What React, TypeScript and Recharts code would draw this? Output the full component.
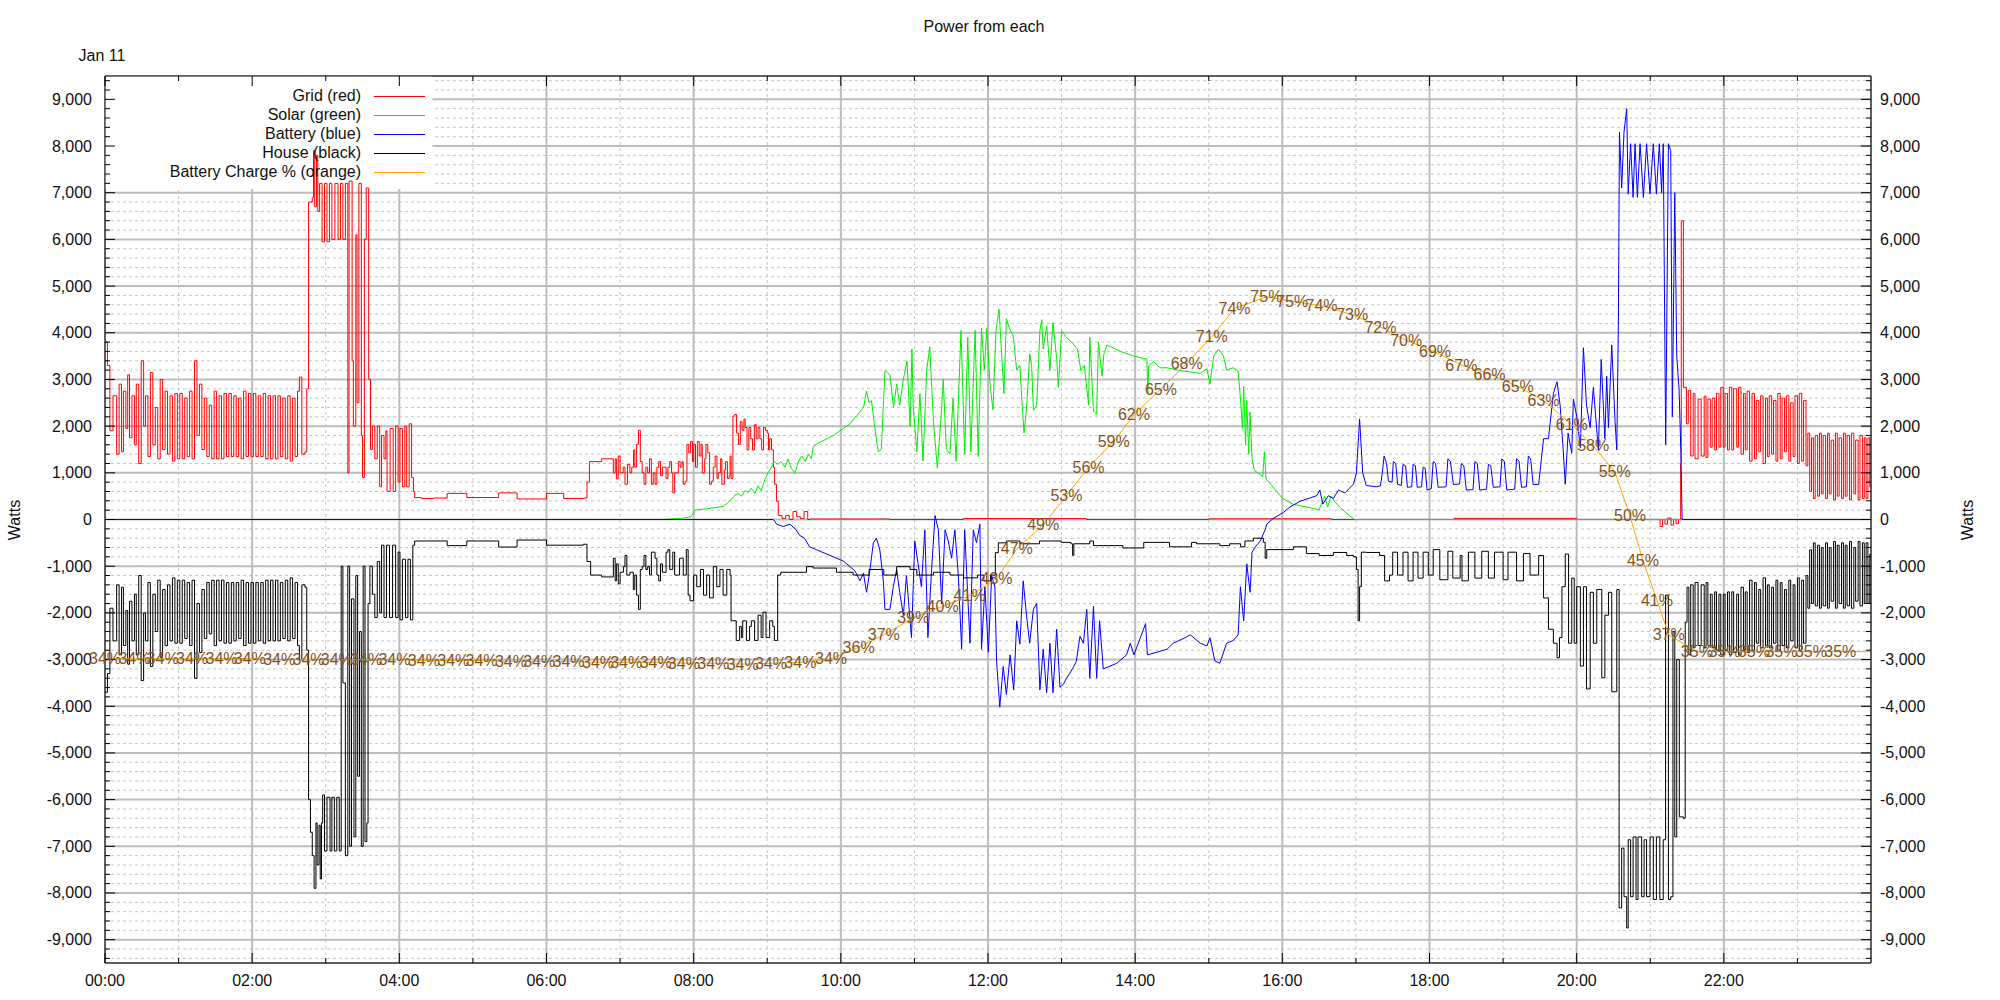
import React from "react";
import { LineChart, Line, XAxis, YAxis, CartesianGrid, ReferenceArea, LabelList } from "recharts";

const FONT = '"Liberation Sans", Arial, Helvetica, sans-serif';
const PCT_BROWN = "#835222";

type Pt = [number, number];

// all series: [minutes after midnight, watts]
const gridPoints: Pt[] = [
  [0, 3800], [2, 3300], [4, 1900], [6.5, 2650], [9.5, 1400], [11.5, 2900], [13.5, 1450], [15, 2750], [17, 1950], [18.5, 3100],
  [20, 1750], [22, 2650], [24, 1600], [25.5, 2900], [27.5, 1200], [29.5, 3400], [31.5, 2000], [33, 2650], [35, 1350], [37, 3150],
  [39, 1600], [41, 2400], [43, 1300], [45, 3000], [47, 1500], [49, 2750], [51, 1400], [53, 2650], [55, 1250], [57, 2700],
  [59, 1300], [61, 2700], [63, 1300], [65, 2600], [67, 1350], [69, 2750], [71, 1300], [73, 3400], [75, 1800], [77, 2900],
  [79, 1500], [81, 2600], [83, 1350], [85, 2450], [87, 1300], [89, 2750], [91, 1300], [93, 2650], [95, 1300], [97, 2700],
  [99, 1350], [101, 2700], [103, 1350], [105, 2650], [107, 1350], [109, 2600], [111, 1300], [113, 2750], [115, 1350], [117, 2700],
  [119, 1350], [121, 2700], [123, 1350], [125, 2650], [127, 1350], [129, 2700], [131, 1300], [133, 2650], [135, 1300], [137, 2650],
  [139, 1300], [141, 2650], [143, 1350], [145, 2600], [147, 1300], [149, 2650], [151, 1250], [153, 2600], [155, 1350], [157, 2750],
  [158.5, 3050], [160.5, 1400], [163, 1450], [164.5, 2800], [166, 6800], [169, 6900], [170, 7900], [171, 6700], [172.5, 7800], [173.5, 6600],
  [175, 7200], [177, 5950], [179, 7200], [181, 5950], [183, 7200], [185, 6000], [187.5, 7200], [190, 6000], [192, 7200], [194, 6000],
  [196, 7200], [198, 1000], [199, 7250], [201.5, 3400], [202.5, 2000], [204.5, 6100], [205.5, 2500], [207, 7200], [209, 1800], [210, 900],
  [211.5, 6000], [213, 7100], [215, 3000], [216.5, 1500], [218, 2000], [220, 1300], [222, 2000], [224, 700], [225.5, 1800], [227.5, 1300],
  [229, 1900], [230, 600], [232.5, 1950], [235, 600], [237, 2000], [239, 800], [240.5, 1950], [242.5, 700], [244.5, 2000], [246, 700],
  [248, 2050], [250, 900], [251.5, 600], [252.5, 470], [258, 450], [268, 460], [279, 560], [295, 470], [321, 570], [336, 440],
  [360, 560], [374, 450], [391, 460], [393, 800], [395, 1240], [405, 1300], [414.5, 1000], [416, 1300], [417, 870], [418.5, 1360],
  [420, 1000], [422.5, 1120], [424, 755], [426, 1180], [428, 1000], [429.5, 1120], [431, 1490], [432, 1120], [433.5, 1610], [435, 1910],
  [436.5, 1240], [438, 1000], [439.5, 755], [441, 1120], [442.5, 1000], [444, 1300], [445.5, 755], [447, 1000], [448.5, 755], [450, 1120],
  [451.5, 1240], [453, 940], [454.5, 1120], [457.5, 880], [459, 1120], [460.5, 1240], [462, 1000], [463, 570], [464.5, 1000], [467.5, 1240],
  [469, 1120], [470.5, 1240], [471.5, 755], [473, 820], [474.5, 1610], [476, 1430], [477.5, 1670], [479, 1240], [480, 1610], [481.5, 1120],
  [483, 1670], [484.5, 1360], [486, 1610], [487, 1000], [489, 1300], [490, 1610], [491.5, 1430], [493, 755], [494.5, 820], [496, 1120],
  [497.5, 1360], [499, 880], [500, 1000], [502, 1300], [503, 755], [505, 1060], [506, 1240], [507.5, 880], [509, 940], [509.7, 1360],
  [510.5, 880], [512, 2215], [513.5, 2250], [515, 1850], [516.5, 1610], [518, 2095], [519.5, 1910], [521, 2150], [522, 1970], [523.5, 1490],
  [525, 1970], [526.5, 1730], [528, 1490], [529.5, 2030], [531, 1730], [532.5, 1970], [534, 1730], [535.5, 1490], [537, 1970], [538.5, 1910],
  [540, 1850], [541, 1490], [542, 1730], [543.5, 1490], [545, 1120], [546, 755], [547.5, 390], [549, 85], [552, 25], [555, 85],
  [558, 0], [561, 170], [564, 60], [567, 20], [570, 170], [573, 0], [575, 10], [640, 0], [700, 20], [800, 0],
  [900, 15], [1000, 0], [1100, 25], [1200, 0], [1266, 0], [1268, -150], [1270, 0], [1272, -100], [1274, 30], [1277, -120],
  [1279, 0], [1281, -90], [1283, 0], [1284.8, 1200], [1285.3, 6400], [1287, 2830], [1289.5, 2050], [1291, 2760], [1293, 1360], [1295, 2700],
  [1296.5, 1300], [1299, 2580], [1301.5, 1360], [1304, 2640], [1305.5, 1330], [1307, 2580], [1309, 1550], [1310.5, 2600], [1312.5, 1490], [1314, 2700],
  [1316, 1550], [1317.5, 2830], [1319.5, 1550], [1321, 2700], [1323, 1490], [1324.5, 2830], [1326.5, 1490], [1328, 2800], [1330.5, 1550], [1332, 2830],
  [1334, 1400], [1336, 2700], [1337.5, 1490], [1339, 2750], [1341, 1250], [1343, 2700], [1345, 1300], [1346.5, 2550], [1348.5, 1450], [1350, 2650],
  [1352, 1200], [1354, 2600], [1355.5, 1350], [1357, 2650], [1359, 1400], [1360.5, 2550], [1362.5, 1250], [1364, 2700], [1366, 1300], [1367.5, 2600],
  [1369.5, 1450], [1371, 2650], [1373, 1250], [1374.5, 2500], [1376.5, 1350], [1378, 2650], [1380, 1200], [1381.5, 2700], [1383.5, 1250], [1385, 2550],
  [1387, 1150], [1388.5, 1850], [1390, 600], [1391.5, 1750], [1393, 450], [1394.5, 1800], [1396.5, 500], [1398, 1850], [1399.5, 550], [1401, 1800],
  [1403, 450], [1404.5, 1850], [1406, 550], [1407.5, 1700], [1409.5, 420], [1411, 1850], [1412.5, 500], [1414, 1750], [1416, 450], [1417.5, 1850],
  [1419, 500], [1420.5, 1800], [1422.5, 420], [1424, 1850], [1426, 550], [1427.5, 1700], [1429.5, 420], [1431, 1800], [1433, 450], [1434.5, 1750],
  [1436, 450], [1437.5, 1750], [1439, 700], [1440, 700],
];

const solarPoints: Pt[] = [
  [0, 0], [455, 0], [460.7, 10], [471.6, 30], [478, 60], [481, 200], [490.6, 230], [504, 280], [509.7, 400], [513.7, 520],
  [516.5, 560], [519, 500], [522, 620], [524.5, 580], [527, 670], [530, 560], [532.5, 720], [535, 620], [538, 850], [540.5, 1000],
  [543, 1100], [545.7, 1240], [548.5, 1180], [551, 1240], [554.5, 1120], [557, 1300], [559.5, 1100], [562.5, 1000], [565.6, 1250], [568, 1360],
  [571, 1240], [573.5, 1400], [576, 1300], [577.5, 1560], [580.5, 1620], [594, 1800], [607.5, 2050], [618.5, 2400], [621, 2750], [623, 2500],
  [625, 2550], [627.8, 1950], [630.5, 1450], [633, 1500], [636, 3190], [640, 3100], [643, 2400], [645.5, 2900], [648, 2450], [651, 3000],
  [654, 3400], [656.5, 2000], [658, 3650], [659, 2400], [662, 1450], [664.5, 2700], [667, 1250], [670, 3200], [672.5, 3700], [675.5, 2100],
  [678.7, 1100], [682, 2300], [683.5, 3000], [686, 1500], [689, 1400], [691.5, 2600], [694, 1250], [698, 4050], [701, 1400], [703.5, 3900],
  [706, 1450], [709.5, 4050], [712, 1350], [714.7, 4100], [717, 3200], [719, 4100], [721.5, 2950], [724, 2350], [726.5, 4050], [729, 4500],
  [733, 2700], [735, 4300], [737.5, 4100], [740.6, 3920], [743.4, 3200], [746, 3300], [747.5, 2600], [749.4, 1850], [751.6, 2450], [754, 3550],
  [755.6, 3300], [757, 2340], [759.7, 2450], [762.3, 4040], [763.8, 4280], [765, 3650], [767.8, 4140], [770.5, 3190], [773, 4220], [776, 3440],
  [777.4, 2830], [780, 4040], [784, 3900], [788, 3800], [793, 3650], [795.7, 3190], [798.5, 3300], [802, 2450], [803, 3900], [806, 2320],
  [808.6, 2250], [810, 3800], [813, 3070], [814.5, 3550], [817, 3740], [828, 3600], [839, 3500], [847, 3450], [849.5, 3440], [850.3, 2700],
  [851, 3300], [855, 3380], [860.5, 3250], [866, 3250], [876.7, 3190], [893, 3130], [898.5, 3230], [901, 2900], [904, 3500], [908, 3650],
  [912, 3500], [914.6, 3200], [920, 3250], [923.9, 3180], [925.8, 2600], [927.5, 1950], [928.5, 2850], [930, 1600], [931, 2550], [932.6, 1400],
  [933.7, 2300], [935.3, 1300], [937.2, 1050], [940, 1000], [944, 920], [945.4, 1450], [946.7, 870], [960.3, 450], [968.5, 330], [979.3, 270],
  [990, 210], [994.4, 500], [997, 270], [999.7, 500], [1002.5, 390], [1006.6, 270], [1014.7, 85], [1018.8, 0], [1440, 0],
];

const batteryPoints: Pt[] = [
  [0, 0], [545, 0], [547.7, -100], [553, -150], [558.5, -100], [563.5, -220], [566.4, -340], [570.4, -400], [574.5, -585], [580, -645],
  [586.7, -720], [594, -800], [602, -890], [607.5, -1010], [611.5, -1100], [615.6, -1315], [618.4, -1150], [621, -1560], [623.8, -1070], [626.5, -500],
  [629, -400], [631.8, -650], [634.6, -1300], [636, -1925], [640, -1925], [642.8, -1440], [645.5, -1070], [648, -1560], [651, -2050], [653.5, -1200],
  [657.6, -2530], [660.3, -460], [663, -950], [665.7, -1440], [668.5, -220], [671, -2530], [674, -1070], [676.8, 85], [679.5, -220], [682.2, -1800],
  [685, -220], [687.6, -460], [690.3, -830], [693, -220], [695.8, -1200], [698.5, -2780], [701, -220], [705.3, -2650], [708, -220], [710.6, -500],
  [713.4, -100], [714.7, -2780], [717.5, -1440], [720.3, -2840], [723, -1200], [725.6, -1440], [727, -3030], [729.6, -4020], [732.4, -3150], [735, -3750],
  [738, -2900], [741, -3650], [743.4, -2170], [746, -2670], [748.7, -1315], [751.4, -2050], [754, -2650], [757, -1925], [759.7, -1800], [762.3, -3650],
  [765, -2780], [767.8, -3710], [770.5, -2650], [773, -3710], [776, -2350], [778.7, -3590], [781.5, -3530], [784, -3400], [786.8, -3290], [789.5, -3170],
  [792, -3040], [795, -2500], [797.8, -2650], [800.5, -1925], [803, -3400], [806, -1860], [808.6, -3400], [811, -2170], [814, -3200], [825, -3080],
  [833, -2900], [836, -2650], [839, -2900], [848.5, -2230], [850, -2900], [866, -2780], [871, -2650], [881, -2530], [885, -2470], [893, -2650],
  [898.5, -2710], [901, -2530], [905, -3030], [909, -3080], [914.6, -2650], [920, -2590], [924, -2470], [925.8, -1440], [928.5, -2170], [931, -950],
  [933.7, -1560], [935.3, -700], [938, -585], [942, -460], [946, -220], [947.3, -100], [952.7, 25], [960.8, 150], [966.3, 270], [974.4, 390],
  [988, 510], [990.6, 630], [993, 330], [997.5, 510], [1001.6, 450], [1005.7, 630], [1011, 570], [1018, 755], [1020.4, 1000], [1023, 2155],
  [1025.5, 1000], [1028.4, 730], [1036.5, 700], [1040, 720], [1041.5, 1000], [1043, 1360], [1045, 1200], [1046.5, 820], [1049.5, 800], [1050.5, 1240],
  [1052.5, 1200], [1054, 755], [1057, 730], [1058.4, 1180], [1060.5, 1150], [1062, 690], [1065.5, 700], [1066.6, 1180], [1068.5, 1150], [1070, 690],
  [1073.5, 700], [1074.8, 1120], [1076.5, 1100], [1078, 630], [1081.5, 660], [1083, 1240], [1085, 1200], [1087, 690], [1093.5, 700], [1095, 1300],
  [1097, 1250], [1099.5, 750], [1104.5, 760], [1106, 1200], [1108, 1150], [1110, 630], [1115.5, 640], [1117, 1240], [1119, 1200], [1121, 630],
  [1126.5, 650], [1128, 1180], [1130, 1150], [1132, 690], [1137.5, 700], [1139, 1300], [1141, 1250], [1143, 630], [1149.5, 650], [1151, 1300],
  [1153, 1250], [1155, 690], [1159, 700], [1160.6, 1360], [1162.5, 1300], [1164.5, 750], [1169, 750], [1173, 1730], [1177, 1730], [1181, 2700],
  [1184, 2950], [1186.5, 2450], [1189, 1490], [1190.7, 755], [1193, 1850], [1196, 1420], [1197.3, 2580], [1200, 2215], [1203, 1540], [1205.5, 3680],
  [1208, 2450], [1211, 1970], [1213.6, 2830], [1217.7, 1490], [1220, 3430], [1223, 1730], [1224.5, 3070], [1225.9, 1970], [1228.6, 3740], [1231.3, 2100],
  [1232.7, 1490], [1234, 4170], [1234.9, 8300], [1236.7, 7100], [1238.6, 8300], [1240.8, 8800], [1242, 6970], [1244, 8050], [1246, 6900], [1247.6, 8050],
  [1249.5, 6900], [1251.7, 8050], [1254.4, 6900], [1257, 8050], [1259.8, 6970], [1262.5, 8050], [1265, 6970], [1267.4, 8050], [1269.3, 7000], [1270.6, 8050],
  [1272.6, 1600], [1274.8, 8050], [1276.7, 7900], [1278, 2200], [1280, 7000], [1281.6, 3500], [1283.5, 2800], [1285, 1420], [1286, 0], [1440, 0],
];

const housePoints: Pt[] = [
  [0, -3700], [2, -3300], [4, -1900], [6.5, -2600], [9.5, -1400], [11.5, -2900], [13.5, -1450], [15, -2700], [17, -1950], [18.5, -3100],
  [20, -1750], [22, -2600], [24, -1600], [25.5, -2900], [27.5, -1200], [29.5, -3450], [31.5, -2000], [33, -2600], [35, -1350], [37, -3150],
  [39, -1600], [41, -2400], [43, -1300], [45, -2950], [47, -1500], [49, -2700], [51, -1400], [53, -2600], [55, -1250], [57, -2650],
  [59, -1300], [61, -2650], [63, -1300], [65, -2550], [67, -1350], [69, -2700], [71, -1300], [73, -3400], [75, -1800], [77, -2850],
  [79, -1500], [81, -2550], [83, -1350], [85, -2450], [87, -1300], [89, -2700], [91, -1300], [93, -2600], [95, -1300], [97, -2650],
  [99, -1350], [101, -2650], [103, -1350], [105, -2600], [107, -1350], [109, -2550], [111, -1300], [113, -2700], [115, -1350], [117, -2650],
  [119, -1350], [121, -2650], [123, -1350], [125, -2600], [127, -1350], [129, -2650], [131, -1300], [133, -2600], [135, -1300], [137, -2600],
  [139, -1300], [141, -2600], [143, -1350], [145, -2550], [147, -1300], [149, -2600], [151, -1250], [153, -2550], [155, -1350], [157, -2700],
  [158.5, -3000], [160.5, -1400], [163, -1450], [164.5, -2800], [166, -6000], [167.5, -6700], [169, -7200], [170.5, -7900], [172, -6500], [173, -7400],
  [174.5, -6550], [175.5, -7700], [176.5, -6500], [177.5, -5900], [179, -7100], [181, -5950], [183.5, -7100], [185, -5950], [187, -7100], [189, -5950],
  [191, -7100], [192.6, -1000], [194, -3500], [196, -7200], [198, -1000], [199.5, -7000], [201, -1700], [203, -6800], [204.5, -1200], [206, -5500],
  [207.5, -2400], [209, -7000], [210.5, -1000], [212, -6900], [213.5, -6500], [214.5, -1800], [216, -1000], [218, -1600], [220, -2100], [222, -900],
  [224, -2000], [225.5, -550], [227.5, -2100], [229.5, -550], [232, -2100], [234.5, -550], [237, -2100], [239, -700], [240.5, -2150], [242.5, -850],
  [245, -2100], [247, -850], [249, -2150], [251, -550], [252.5, -460], [279, -560], [295, -460], [321, -590], [336, -440], [360, -550],
  [390, -530], [393, -900], [396, -1190], [405, -1230], [414.5, -830], [416, -1315], [417, -950], [418.5, -1380], [420, -1130], [422.7, -1010],
  [424, -770], [425.5, -1190], [428, -1130], [430.8, -1500], [432, -1190], [433.5, -1620], [435, -1925], [436.5, -1070], [438, -1010], [439.5, -770],
  [441, -1070], [442.5, -1010], [444, -1190], [445.5, -700], [448.5, -830], [450, -1190], [451.5, -1315], [453, -950], [454.5, -1130], [457.5, -700],
  [459, -645], [460.5, -1070], [463, -700], [464.5, -1190], [468.5, -830], [471.5, -1190], [474, -645], [475.5, -1620], [477, -1740], [480, -1190],
  [482.5, -1440], [485.5, -1070], [488, -1620], [490.6, -1190], [493, -1680], [496, -1010], [498.8, -1440], [501.4, -1070], [504, -1620], [507, -1070],
  [509.7, -1190], [510.5, -2170], [514.7, -2590], [517.5, -2290], [518.9, -2530], [520, -2170], [523, -2590], [525.6, -2290], [527, -2170], [529.7, -2590],
  [532.5, -2050], [535, -2530], [536.5, -1985], [539, -2530], [542, -2170], [544.5, -2290], [545.8, -2590], [548.5, -1190], [551, -1130], [572, -1010],
  [577.5, -1040], [596.5, -1130], [610, -1190], [623, -1070], [635, -1190], [645.5, -1010], [656.5, -1070], [662, -1190], [675.5, -1130], [689, -1190],
  [700, -1250], [711.5, -1190], [716.6, -1315], [722, -1190], [726, -710], [728.4, -500], [735, -460], [746, -520], [762, -460], [779.6, -490],
  [787.6, -520], [789, -770], [790, -520], [803, -460], [806, -560], [830, -610], [847, -490], [868, -585], [886, -490], [890, -520],
  [909, -560], [917, -520], [926, -585], [929.5, -460], [936.4, -400], [944.5, -490], [946, -830], [947.3, -645], [960.8, -645], [969, -585],
  [979.6, -730], [990, -770], [1001.6, -706], [1012.5, -770], [1018, -800], [1020.4, -1070], [1021.8, -2170], [1023, -1440], [1024.4, -700], [1028.4, -706],
  [1039.3, -770], [1043.4, -1315], [1047.4, -1190], [1050, -700], [1054, -1190], [1058.4, -700], [1062.5, -1315], [1066.6, -700], [1070.6, -1255], [1074.8, -700],
  [1079, -1190], [1083, -645], [1088.4, -1290], [1095, -680], [1099, -1255], [1105, -770], [1106.5, -1315], [1111.7, -700], [1117, -1255], [1122.6, -680],
  [1128, -1255], [1133, -700], [1140, -1290], [1144, -700], [1151, -1315], [1156.6, -730], [1162, -1190], [1169, -770], [1173, -1680], [1177, -2350],
  [1181, -2650], [1184, -2960], [1186, -2530], [1188, -1440], [1190.7, -740], [1193.4, -2650], [1196, -1255], [1198, -2650], [1200, -1440], [1203, -3140],
  [1205.5, -1440], [1208, -3630], [1211, -1560], [1213.6, -2650], [1216.4, -1500], [1220.5, -3390], [1223, -2050], [1226, -1560], [1228.6, -3690], [1232.7, -1500],
  [1234.6, -8320], [1236.7, -7040], [1238.6, -8080], [1240.8, -8750], [1242, -6860], [1244, -8080], [1246, -6800], [1248.4, -8140], [1250, -6800], [1253, -8080],
  [1255, -6860], [1257, -8080], [1259.8, -6800], [1262.5, -8140], [1265, -6800], [1267.8, -8140], [1270.6, -6860], [1272.5, -1620], [1274.8, -8140], [1276.7, -8080],
  [1278.5, -2400], [1280, -6800], [1281.6, -3000], [1283.7, -6370], [1287, -6400], [1288.5, -2200], [1290, -1450], [1291.5, -2900], [1293, -1400], [1295, -2750],
  [1296.5, -1350], [1299, -2700], [1301.5, -1400], [1304, -2750], [1305.5, -1350], [1307, -2700], [1309, -1600], [1310.5, -2750], [1312.5, -1550], [1314, -2800],
  [1316, -1600], [1317.5, -2900], [1319.5, -1600], [1321, -2800], [1323, -1550], [1324.5, -2900], [1326.5, -1550], [1328, -2850], [1330.5, -1600], [1332, -2900],
  [1334, -1450], [1336, -2800], [1337.5, -1550], [1339, -2850], [1341, -1300], [1343, -2800], [1345, -1350], [1346.5, -2650], [1348.5, -1500], [1350, -2750],
  [1352, -1250], [1354, -2700], [1355.5, -1400], [1357, -2750], [1359, -1450], [1360.5, -2650], [1362.5, -1300], [1364, -2800], [1366, -1350], [1367.5, -2700],
  [1369.5, -1500], [1371, -2750], [1373, -1300], [1374.5, -2600], [1376.5, -1400], [1378, -2750], [1380, -1250], [1381.5, -2800], [1383.5, -1300], [1385, -2650],
  [1387, -1200], [1388.5, -1900], [1390, -650], [1391.5, -1800], [1393, -500], [1394.5, -1850], [1396.5, -550], [1398, -1900], [1399.5, -600], [1401, -1850],
  [1403, -500], [1404.5, -1900], [1406, -600], [1407.5, -1750], [1409.5, -470], [1411, -1900], [1412.5, -550], [1414, -1800], [1416, -500], [1417.5, -1900],
  [1419, -550], [1420.5, -1850], [1422.5, -470], [1424, -1900], [1426, -600], [1427.5, -1750], [1429.5, -470], [1431, -1850], [1433, -500], [1434.5, -1800],
  [1436, -500], [1437.5, -1800], [1439, -750], [1440, -750],
];

// battery charge: [minute, percent], one per printed label
const chargePoints: Pt[] = [
  [0, 34.3], [24, 34.3], [47, 34.3], [71, 34.3], [95, 34.3], [118, 34.3], [142, 34.2], [166, 34.2], [189, 34.2], [213, 34.2],
  [236, 34.2], [260, 34.1], [284, 34.1], [307, 34.1], [331, 34.0], [354, 34.0], [378, 34.0], [402, 33.9], [425, 33.9], [449, 33.9],
  [472, 33.8], [496, 33.8], [520, 33.7], [543, 33.8], [567, 33.9], [592, 34.3], [614.5, 35.6], [635, 37.0], [659, 38.9], [683, 40.2],
  [705, 41.4], [727, 43.3], [743.5, 46.7], [765, 49.4], [784, 52.7], [802, 55.9], [822.5, 58.8], [839, 61.8], [861, 64.7], [882, 67.6],
  [902.5, 70.6], [921, 73.8], [947, 75.1], [968, 74.6], [992, 74.1], [1017, 73.1], [1040, 71.7], [1061, 70.2], [1084.5, 68.9], [1106, 67.4],
  [1129, 66.4], [1152, 65.0], [1173, 63.4], [1196, 60.7], [1213.5, 58.3], [1231, 55.4], [1243.5, 50.4], [1254, 45.4], [1265.5, 40.9], [1275, 37.0],
  [1298, 35.1], [1320.5, 35.1], [1344.5, 35.1], [1367, 35.1], [1391, 35.1], [1415, 35.1],
];
const chargeEnd: Pt = [1440, 35.1];

const xTicks = [0, 60, 120, 180, 240, 300, 360, 420, 480, 540, 600, 660, 720, 780, 840, 900, 960, 1020, 1080, 1140, 1200, 1260, 1320, 1380];
const xMajorTicks = [0, 120, 240, 360, 480, 600, 720, 840, 960, 1080, 1200, 1320];
const yTicks = [
  -9400, -9200, -9000, -8800, -8600, -8400, -8200, -8000, -7800, -7600, -7400, -7200, -7000, -6800, -6600, -6400, -6200, -6000, -5800, -5600,
  -5400, -5200, -5000, -4800, -4600, -4400, -4200, -4000, -3800, -3600, -3400, -3200, -3000, -2800, -2600, -2400, -2200, -2000, -1800, -1600,
  -1400, -1200, -1000, -800, -600, -400, -200, 0, 200, 400, 600, 800, 1000, 1200, 1400, 1600, 1800, 2000, 2200, 2400,
  2600, 2800, 3000, 3200, 3400, 3600, 3800, 4000, 4200, 4400, 4600, 4800, 5000, 5200, 5400, 5600, 5800, 6000, 6200, 6400,
  6600, 6800, 7000, 7200, 7400, 7600, 7800, 8000, 8200, 8400, 8600, 8800, 9000, 9200, 9400,
];
const yMajorTicks = [-9000, -8000, -7000, -6000, -5000, -4000, -3000, -2000, -1000, 0, 1000, 2000, 3000, 4000, 5000, 6000, 7000, 8000, 9000];

const legendItems = [
  { name: "Grid (red)", color: "#ff0000" },
  { name: "Solar (green)", color: "#00ee00" },
  { name: "Battery (blue)", color: "#0000ff" },
  { name: "House (black)", color: "#000000" },
  { name: "Battery Charge % (orange)", color: "#ffa500" },
];

const toRows = (pts: Pt[]) => pts.map(([t, v]) => ({ t, v }));

function hhmm(m: number) {
  const h = Math.floor(m / 60);
  return `${h < 10 ? "0" : ""}${h}:00`;
}

const txt = { fontSize: 16, fontFamily: FONT, fill: "#111" };

function LeftTick(p: any) {
  const v = p.payload.value;
  const major = v % 1000 === 0;
  return (
    <g>
      <line x1={p.x} x2={p.x + (major ? 10 : 5)} y1={p.y} y2={p.y} stroke="#000" />
      {major && (
        <text x={p.x - 13} y={p.y} textAnchor="end" dominantBaseline="central" {...txt}>
          {v.toLocaleString("en-US")}
        </text>
      )}
    </g>
  );
}

function RightTick(p: any) {
  const v = p.payload.value;
  const major = v % 1000 === 0;
  return (
    <g>
      <line x1={p.x} x2={p.x - (major ? 10 : 5)} y1={p.y} y2={p.y} stroke="#000" />
      {major && (
        <text x={p.x + 9} y={p.y} textAnchor="start" dominantBaseline="central" {...txt}>
          {v.toLocaleString("en-US")}
        </text>
      )}
    </g>
  );
}

function BottomTick(p: any) {
  const v = p.payload.value;
  const major = v % 120 === 0;
  return (
    <g>
      <line x1={p.x} x2={p.x} y1={p.y} y2={p.y - (major ? 10 : 5)} stroke="#000" />
      {major && (
        <text x={p.x} y={p.y + 17} textAnchor="middle" dominantBaseline="central" {...txt}>
          {hhmm(v)}
        </text>
      )}
    </g>
  );
}

function TopTick(p: any) {
  const major = p.payload.value % 120 === 0;
  return <line x1={p.x} x2={p.x} y1={p.y} y2={p.y + (major ? 10 : 5)} stroke="#000" />;
}

function PctLabel(p: any) {
  const x = p.x ?? p.viewBox?.x;
  const y = p.y ?? p.viewBox?.y;
  if (x == null || y == null) return null;
  return (
    <text x={x} y={y} textAnchor="middle" dominantBaseline="central" fontSize={16} fontFamily={FONT} fill={PCT_BROWN}>
      {Math.round(p.value)}%
    </text>
  );
}

export default function App() {
  const lineProps = { dot: false, activeDot: false, isAnimationActive: false, strokeWidth: 1, xAxisId: "b", dataKey: "v" } as const;
  return (
    <div style={{ position: "absolute", left: 0, top: 0, width: 2000, height: 1000, background: "#fff", fontFamily: FONT }}>
      <LineChart width={2000} height={1000} margin={{ top: 66, right: 0, bottom: 0, left: 0 }}>
        <XAxis xAxisId="b" type="number" dataKey="t" domain={[0, 1440]} allowDataOverflow ticks={xTicks} interval={0}
          height={37} tickSize={0} tickMargin={0} tickLine={false} axisLine={{ stroke: "#000" }} tick={BottomTick} />
        <XAxis xAxisId="t" orientation="top" type="number" dataKey="t" domain={[0, 1440]} allowDataOverflow ticks={xTicks} interval={0}
          height={10} tickSize={0} tickMargin={0} tickLine={false} axisLine={{ stroke: "#000" }} tick={TopTick} />
        <XAxis xAxisId="gx" hide height={0} type="number" dataKey="t" domain={[0, 1440]} allowDataOverflow ticks={xMajorTicks} interval={0} />
        <YAxis yAxisId="l" type="number" domain={[-9500, 9500]} allowDataOverflow ticks={yTicks} interval={0}
          width={105} tickSize={0} tickMargin={0} tickLine={false} axisLine={{ stroke: "#000" }} tick={LeftTick} />
        <YAxis yAxisId="r" orientation="right" type="number" domain={[-9500, 9500]} allowDataOverflow ticks={yTicks} interval={0}
          width={129} tickSize={0} tickMargin={0} tickLine={false} axisLine={{ stroke: "#000" }} tick={RightTick} />
        <YAxis yAxisId="gy" hide width={0} type="number" domain={[-9500, 9500]} allowDataOverflow ticks={yMajorTicks} interval={0} />
        <YAxis yAxisId="pct" hide width={0} type="number" domain={[0, 100]} allowDataOverflow />

        <CartesianGrid xAxisId="b" yAxisId="l" stroke="#c6c6c6" strokeDasharray="3 3" />
        <CartesianGrid xAxisId="gx" yAxisId="gy" stroke="#bdbdbd" strokeWidth={2} />
        <ReferenceArea xAxisId="b" yAxisId="l" x1={0} x2={267} y1={7080} y2={9500} fill="#ffffff" fillOpacity={1} stroke="none" />

        <Line {...lineProps} yAxisId="l" data={toRows(gridPoints)} type="stepAfter" stroke="#ff0000" />
        <Line {...lineProps} yAxisId="l" data={toRows(solarPoints)} type="linear" stroke="#00ee00" />
        <Line {...lineProps} yAxisId="l" data={toRows(batteryPoints)} type="linear" stroke="#0000ff" />
        <Line {...lineProps} yAxisId="l" data={toRows(housePoints)} type="stepAfter" stroke="#000000" />
        <Line {...lineProps} yAxisId="pct" data={toRows([...chargePoints, chargeEnd])} type="linear" stroke="#ffa500" />
        <Line {...lineProps} yAxisId="pct" data={toRows(chargePoints)} type="linear" stroke="none">
          <LabelList dataKey="v" content={PctLabel} />
        </Line>
      </LineChart>

      <div style={{ position: "absolute", left: 984, top: 27, transform: "translate(-50%, -50%)", fontSize: 16, whiteSpace: "nowrap", color: "#111" }}>
        Power from each
      </div>
      <div style={{ position: "absolute", left: 102, top: 56, transform: "translate(-50%, -50%)", fontSize: 16, whiteSpace: "nowrap", color: "#111" }}>
        Jan 11
      </div>
      <div style={{ position: "absolute", left: 15, top: 520, transform: "translate(-50%, -50%) rotate(-90deg)", fontSize: 16, color: "#111" }}>
        Watts
      </div>
      <div style={{ position: "absolute", left: 1968, top: 520, transform: "translate(-50%, -50%) rotate(-90deg)", fontSize: 16, color: "#111" }}>
        Watts
      </div>
      {legendItems.map((item, i) => (
        <React.Fragment key={item.name}>
          <div style={{ position: "absolute", left: 0, width: 361, top: 96 + i * 19.1 - 10, height: 20, lineHeight: "20px", textAlign: "right", fontSize: 16, color: "#111", whiteSpace: "nowrap" }}>
            {item.name}
          </div>
          <div style={{ position: "absolute", left: 374, width: 51, top: Math.round(96 + i * 19.1), height: 0, borderTop: `1px solid ${item.color}` }} />
        </React.Fragment>
      ))}
    </div>
  );
}
